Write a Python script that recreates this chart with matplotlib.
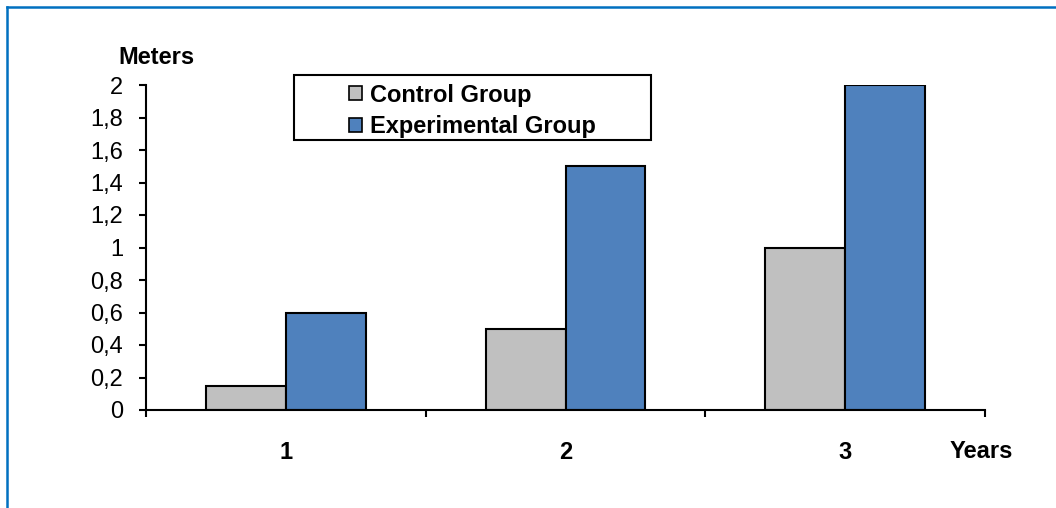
import matplotlib.pyplot as plt
import numpy as np
from matplotlib.lines import Line2D
from matplotlib.patches import Rectangle
from matplotlib.ticker import FixedLocator, FuncFormatter

plt.rcParams["font.family"] = ["Liberation Sans", "DejaVu Sans"]

years = ["1", "2", "3"]
control = [0.15, 0.5, 1.0]
experimental = [0.6, 1.5, 2.0]
y_ticks = [0, 0.2, 0.4, 0.6, 0.8, 1.0, 1.2, 1.4, 1.6, 1.8, 2.0]

fs = 17
fig = plt.figure(figsize=(10.56, 5.08), dpi=100)
ax = fig.add_axes([146 / 1056, 1 - 410 / 508, (985 - 146) / 1056, (410 - 85) / 508])

x = np.arange(1, len(years) + 1)
width = 80 / 280
ax.bar(x - width / 2, control, width, color="#C0C0C0", edgecolor="black",
       linewidth=1.5, label="Control Group")
ax.bar(x + width / 2, experimental, width, color="#4F81BD", edgecolor="black",
       linewidth=1.5, label="Experimental Group")

ax.set_xlim(0.5, 3.5)
ax.set_ylim(0, 2)
for side in ["top", "right"]:
    ax.spines[side].set_visible(False)
for side in ["left", "bottom"]:
    ax.spines[side].set_linewidth(1.5)

ax.set_yticks(y_ticks)
ax.yaxis.set_major_formatter(FuncFormatter(lambda v, _: f"{v:g}".replace(".", ",")))
ax.tick_params(axis="y", direction="out", length=5, width=1.5, pad=11.5, labelsize=fs)

ax.set_xticks(x)
ax.set_xticklabels(years, fontweight="bold")
ax.xaxis.set_minor_locator(FixedLocator([0.5, 1.5, 2.5, 3.5]))
ax.tick_params(axis="x", which="major", length=0, pad=22, labelsize=fs)
ax.tick_params(axis="x", which="minor", direction="out", length=5, width=1.5)

fig.text(156 / 1056, 1 - 58 / 508, "Meters", ha="center", va="center",
         fontsize=fs, fontweight="bold")
fig.text(981 / 1056, 1 - 451 / 508, "Years", ha="center", va="center",
         fontsize=fs, fontweight="bold")

# legend box drawn separately, wider than the entries
fig.add_artist(Rectangle((294 / 1056, 1 - 140 / 508), (651 - 294) / 1056, 65 / 508,
                         transform=fig.transFigure, facecolor="white",
                         edgecolor="black", linewidth=1.5, zorder=3))
handles, labels = ax.get_legend_handles_labels()
leg = fig.legend(handles, labels, loc="center left",
                 bbox_to_anchor=(349 / 1056, 1 - 111 / 508),
                 frameon=False, borderpad=0, borderaxespad=0,
                 handlelength=0.55, handleheight=0.55, handletextpad=0.35,
                 labelspacing=0.38, prop={"weight": "bold", "size": fs})
leg.set_zorder(6)
for h in leg.legend_handles:
    h.set_linewidth(1.2)

# outer blue frame (left and top edges)
fig.add_artist(Line2D([7 / 1056, 7 / 1056], [0, 1 - 7 / 508], color="#0070C0", linewidth=1.8))
fig.add_artist(Line2D([7 / 1056, 1], [1 - 7 / 508, 1 - 7 / 508], color="#0070C0", linewidth=1.8))

fig.savefig("out.png", dpi=100)
